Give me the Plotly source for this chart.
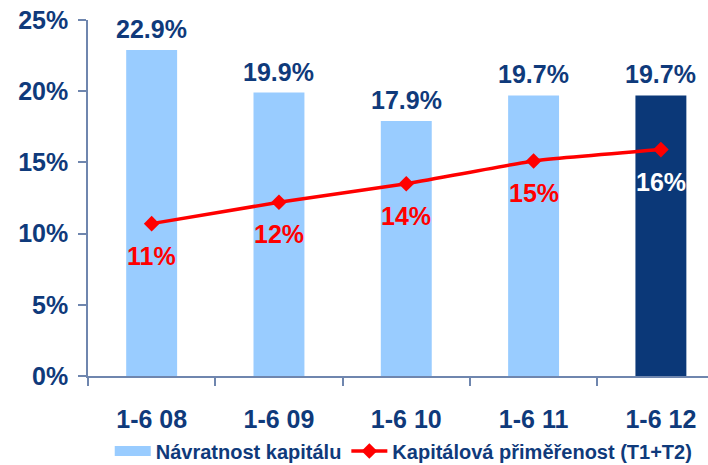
import plotly.graph_objects as go

# Data
periods = ["1-6 08", "1-6 09", "1-6 10", "1-6 11", "1-6 12"]
roe = [22.9, 19.9, 17.9, 19.7, 19.7]          # Návratnost kapitálu (%)
car = [10.7, 12.2, 13.5, 15.1, 15.9]          # Kapitálová přiměřenost (T1+T2) (%)
bar_colors = ["#99CCFF", "#99CCFF", "#99CCFF", "#99CCFF", "#0B3878"]
car_label_colors = ["#FF0000", "#FF0000", "#FF0000", "#FF0000", "#FFFFFF"]

NAVY = "#0F3A7B"
AXIS = "#6F86AE"
LIGHT = "#99CCFF"
FONT = "Arial, Liberation Sans, sans-serif"

fig = go.Figure()

fig.add_trace(go.Bar(
    x=periods, y=roe,
    name="Návratnost kapitálu",
    marker=dict(color=bar_colors, line=dict(width=0)),
    width=0.4,
    showlegend=False,
))

# legend entry for the bars: a wide swatch
fig.add_trace(go.Scatter(
    x=[None], y=[None], mode="lines",
    name="Návratnost kapitálu",
    line=dict(color=LIGHT, width=14),
))

fig.add_trace(go.Scatter(
    x=periods, y=car,
    name="Kapitálová přiměřenost (T1+T2)",
    mode="lines+markers",
    line=dict(color="#FF0000", width=3.5, shape="spline", smoothing=0.4),
    marker=dict(symbol="diamond", size=12, color="#FF0000"),
))

# Bar value labels
for p, v in zip(periods, roe):
    fig.add_annotation(
        x=p, y=v, text=f"{v:.1f}%", showarrow=False,
        yanchor="bottom", yshift=5,
        font=dict(family=FONT, size=25, color=NAVY, weight="bold"),
    )

# Line value labels
for p, v, c in zip(periods, car, car_label_colors):
    fig.add_annotation(
        x=p, y=v, text=f"{v:.0f}%", showarrow=False,
        yanchor="top", yshift=-16,
        font=dict(family=FONT, size=25, color=c, weight="bold"),
    )

fig.update_layout(
    width=708, height=465,
    margin=dict(l=88, r=0, t=20, b=89, autoexpand=False),
    paper_bgcolor="white", plot_bgcolor="white",
    font=dict(family=FONT, color=NAVY),
    showlegend=True,
    legend=dict(
        orientation="h",
        xref="container", yref="container",
        x=0.155, y=0.03, xanchor="left", yanchor="middle",
        font=dict(family=FONT, size=20, color=NAVY, weight="bold"),
        itemwidth=36, tracegroupgap=0,
        bgcolor="rgba(0,0,0,0)",
    ),
    bargap=0.6,
)

fig.update_xaxes(
    type="category",
    range=[-0.5, 4.37],
    showline=True, linecolor=AXIS, linewidth=1.5,
    ticks="outside", tickson="boundaries", ticklen=8, tickcolor=AXIS, tickwidth=1.5,
    tickfont=dict(family=FONT, size=25, color=NAVY, weight="bold"),
    ticklabelstandoff=20,
    showgrid=False, automargin=False,
)

fig.update_yaxes(
    range=[0, 25], dtick=5, ticksuffix="%",
    showline=True, linecolor=AXIS, linewidth=1.5,
    ticks="outside", ticklen=8, tickcolor=AXIS, tickwidth=1.5,
    tickfont=dict(family=FONT, size=25, color=NAVY, weight="bold"),
    ticklabelstandoff=5,
    showgrid=False, zeroline=False, automargin=False,
)

fig.write_html("out.html")
